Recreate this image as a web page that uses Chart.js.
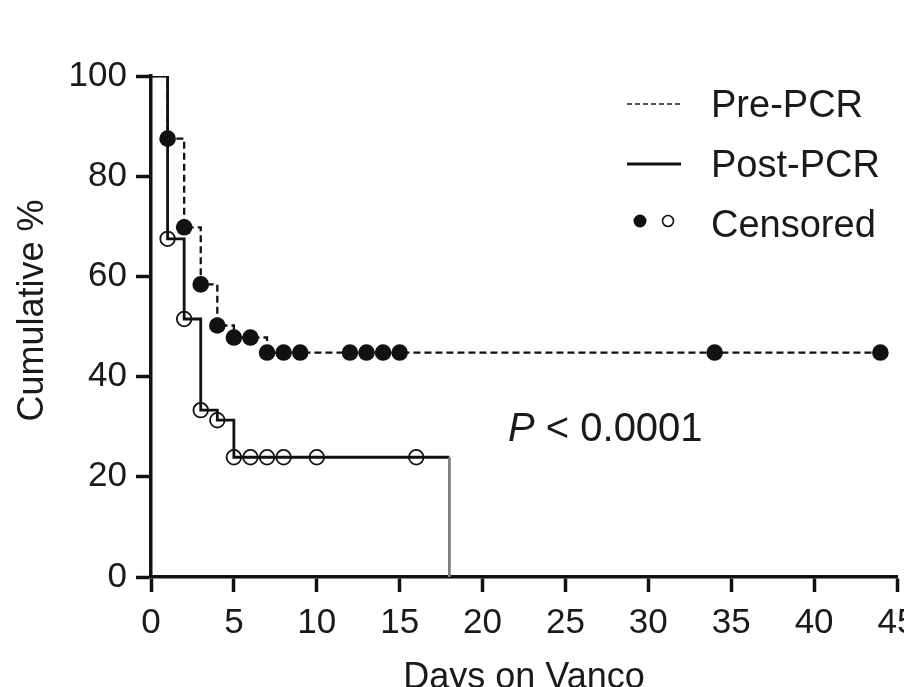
<!DOCTYPE html>
<html>
<head>
<meta charset="utf-8">
<script src="https://cdn.jsdelivr.net/npm/chart.js@4"></script>
<style>
    html, body { margin: 0; padding: 0; background: #fff; overflow: hidden; }
    #wrap { width: 960px; height: 720px; }
</style>
</head>
<body>
<div id="wrap"><canvas id="kmChart" width="960" height="720"></canvas></div>
<script>
// Kaplan-Meier steps (days on vanco -> cumulative %)
const preDays = [0, 1, 2, 3, 4, 5, 7, 44];
const prePct = [100, 87.5, 69.8, 58.4, 50.2, 47.8, 44.8, 44.8];
const postDays = [0, 1, 2, 3, 4, 5, 18, 18];
const postPct = [100, 67.5, 51.5, 33.3, 31.3, 23.9, 23.9, 0];

// censored marks
const preCensorDays = [1, 2, 3, 4, 5, 6, 7, 8, 9, 12, 13, 14, 15, 34, 44];
const preCensorPct = [87.5, 69.8, 58.4, 50.2, 47.8, 47.8, 44.8, 44.8, 44.8, 44.8, 44.8, 44.8, 44.8, 44.8, 44.8];
const postCensorDays = [1, 2, 3, 4, 5, 6, 7, 8, 10, 16];
const postCensorPct = [67.5, 51.5, 33.3, 31.3, 23.9, 23.9, 23.9, 23.9, 23.9, 23.9];

// axes
const xTickValues = [0, 5, 10, 15, 20, 25, 30, 35, 40, 45];
const yTickValues = [0, 20, 40, 60, 80, 100];
const xTitle = 'Days on Vanco';
const yTitle = 'Cumulative %';

// legend / annotation
const legendLabels = ['Pre-PCR', 'Post-PCR', 'Censored'];
const pItalic = 'P';
const pRest = ' < 0.0001';

const fontFamily = "'Liberation Sans', Arial, Helvetica, sans-serif";
const ink = '#111';

function toPoints(xs, ys) {
    return xs.map((x, i) => ({ x: x, y: ys[i] }));
}

const kmLabels = {
    id: 'kmLabels',
    afterLayout(chart) {
        // y title sits a bit above the middle of the axis in the figure
        const y = chart.scales.y;
        if (!y._shifted) {
            const orig = y.drawTitle;
            y.drawTitle = function () {
                this.ctx.save();
                this.ctx.translate(0, -16);
                orig.apply(this, arguments);
                this.ctx.restore();
            };
            y._shifted = true;
        }
    },
    afterDraw(chart) {
        const ctx = chart.ctx;
        ctx.save();
        ctx.strokeStyle = ink;
        ctx.fillStyle = ink;

        // legend samples
        ctx.lineWidth = 2;
        ctx.setLineDash([5, 3]);
        ctx.strokeStyle = '#555';
        ctx.beginPath();
        ctx.moveTo(627, 104);
        ctx.lineTo(681, 104);
        ctx.stroke();

        ctx.setLineDash([]);
        ctx.strokeStyle = ink;
        ctx.lineWidth = 3;
        ctx.beginPath();
        ctx.moveTo(627, 164);
        ctx.lineTo(681, 164);
        ctx.stroke();

        ctx.beginPath();
        ctx.arc(640, 221, 6.5, 0, Math.PI * 2);
        ctx.fill();
        ctx.lineWidth = 1.6;
        ctx.beginPath();
        ctx.arc(668, 221, 5.5, 0, Math.PI * 2);
        ctx.stroke();

        ctx.fillStyle = '#1a1a1a';
        ctx.font = '38px ' + fontFamily;
        ctx.textBaseline = 'alphabetic';
        ctx.textAlign = 'left';
        ctx.fillText(legendLabels[0], 711, 117);
        ctx.fillText(legendLabels[1], 711, 177);
        ctx.fillText(legendLabels[2], 711, 237);

        // p value
        ctx.font = 'italic 40px ' + fontFamily;
        ctx.fillText(pItalic, 508, 441);
        const w = ctx.measureText(pItalic).width;
        ctx.font = '40px ' + fontFamily;
        ctx.fillText(pRest, 508 + w, 441);
        ctx.restore();
    }
};

const ctx = document.getElementById('kmChart').getContext('2d');

const kmChart = new Chart(ctx, {
    type: 'scatter',
    data: {
        datasets: [
            {
                label: 'Pre-PCR censored',
                data: toPoints(preCensorDays, preCensorPct),
                pointRadius: 8.3,
                pointBackgroundColor: ink,
                pointBorderWidth: 0,
                showLine: false
            },
            {
                label: 'Post-PCR censored',
                data: toPoints(postCensorDays, postCensorPct),
                pointRadius: 7.3,
                pointBackgroundColor: 'rgba(0,0,0,0)',
                pointBorderColor: ink,
                pointBorderWidth: 1.8,
                showLine: false
            },
            {
                label: 'Pre-PCR',
                data: toPoints(preDays, prePct),
                showLine: true,
                stepped: 'before',
                borderColor: ink,
                borderWidth: 2.3,
                borderDash: [7, 4],
                pointRadius: 0
            },
            {
                label: 'Post-PCR',
                data: toPoints(postDays, postPct),
                showLine: true,
                stepped: 'before',
                borderColor: ink,
                borderWidth: 2.8,
                pointRadius: 0,
                segment: {
                    // last drop to zero is drawn lighter in the figure
                    borderColor: c => (c.p1DataIndex === postDays.length - 1 ? '#808080' : undefined)
                }
            }
        ]
    },
    options: {
        responsive: false,
        animation: false,
        layout: { padding: { left: 0, top: 76, right: 63, bottom: 0 } },
        plugins: {
            legend: { display: false },
            tooltip: { enabled: false }
        },
        scales: {
            x: {
                type: 'linear',
                min: 0,
                max: 45,
                afterBuildTicks: s => { s.ticks = xTickValues.map(v => ({ value: v })); },
                afterFit: s => { s.height = 143; },
                border: { display: true, color: ink, width: 3.5 },
                grid: { drawOnChartArea: false, drawTicks: true, tickLength: 15, tickWidth: 3.5, tickColor: ink },
                ticks: {
                    padding: 10,
                    maxRotation: 0,
                    autoSkip: false,
                    color: '#1a1a1a',
                    font: { family: fontFamily, size: 35 }
                },
                title: {
                    display: true,
                    text: xTitle,
                    color: '#1a1a1a',
                    font: { family: fontFamily, size: 36 },
                    padding: { top: 0, bottom: 20 }
                }
            },
            y: {
                type: 'linear',
                min: 0,
                max: 100,
                afterBuildTicks: s => { s.ticks = yTickValues.map(v => ({ value: v })); },
                afterFit: s => { s.width = 151; },
                border: { display: true, color: ink, width: 3.5 },
                grid: { drawOnChartArea: false, drawTicks: true, tickLength: 15, tickWidth: 3.5, tickColor: ink },
                ticks: {
                    padding: 9,
                    autoSkip: false,
                    color: '#1a1a1a',
                    font: { family: fontFamily, size: 35 }
                },
                title: {
                    display: true,
                    text: yTitle,
                    color: '#1a1a1a',
                    font: { family: fontFamily, size: 36 },
                    padding: { top: 11, bottom: 0 }
                }
            }
        }
    },
    plugins: [kmLabels]
});
</script>
</body>
</html>
